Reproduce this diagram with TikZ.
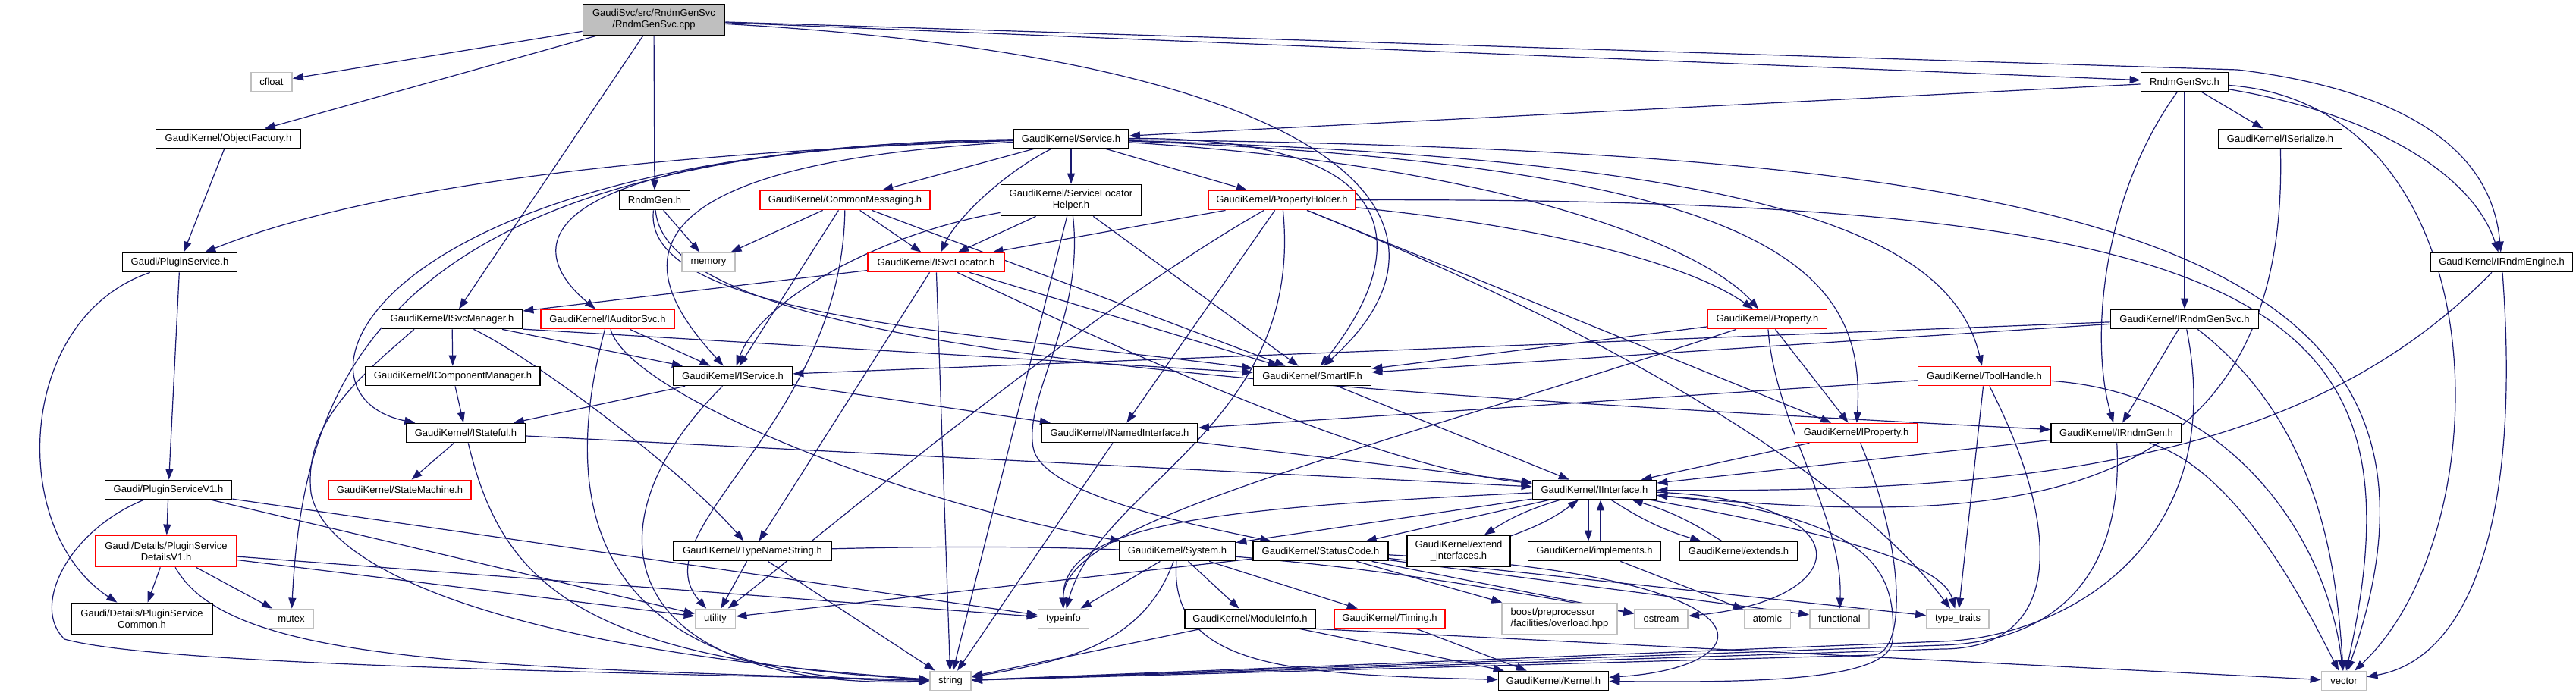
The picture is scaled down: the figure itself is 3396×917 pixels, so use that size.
\documentclass[tikz,border=0pt]{standalone}
\usepackage{fontspec}
\setmainfont{Liberation Sans}
\usepackage{tikz}
\usetikzlibrary{arrows.meta,backgrounds}

\definecolor{edgeblue}{HTML}{191970}
\definecolor{filegrey}{HTML}{BFBFBF}

\begin{document}
\begin{tikzpicture}[x=0.5pt, y=-0.5pt]

  \tikzset{
    header/.style={draw=black, line width=0.9pt, fill=white, inner sep=0pt,
      minimum height=12.5pt, align=center, font=\fontsize{6.5}{7.5}\selectfont},
    header-red/.style={header, draw=red},
    header-sys/.style={header, draw=filegrey},
    header-root/.style={header, fill=filegrey},
    two-line/.style={minimum height=20.5pt},
    box-width/.style={minimum width=#1*0.5pt},
    include-edge/.style={draw=edgeblue, line width=0.6pt, -{Triangle[length=7pt,width=5pt]}}
  }

  \useasboundingbox (0,0) rectangle (3396,917);

  % Place the source file.
  \node [header-root, two-line, box-width=187] (rndmgensvc-cpp) at (862,26) {GaudiSvc/src/RndmGenSvc\\/RndmGenSvc.cpp};

  % Place the headers, one rank after the other.
  \node [header-sys, box-width=54] (cfloat) at (358,108) {cfloat};
  \node [header, box-width=115] (rndmgensvc-h) at (2880,108) {RndmGenSvc.h};

  \node [header, box-width=191] (object-factory) at (301,183) {GaudiKernel/ObjectFactory.h};
  \node [header, box-width=152] (service) at (1412,183) {GaudiKernel/Service.h};
  \node [header, box-width=163] (iserialize) at (3006,183) {GaudiKernel/ISerialize.h};

  \node [header, box-width=93] (rndmgen) at (863,264) {RndmGen.h};
  \node [header-red, box-width=224] (common-messaging) at (1114,264) {GaudiKernel/CommonMessaging.h};
  \node [header, two-line, box-width=185] (locator-helper) at (1412,264) {GaudiKernel/ServiceLocator\\Helper.h};
  \node [header-red, box-width=194] (property-holder) at (1690,264) {GaudiKernel/PropertyHolder.h};

  \node [header, box-width=151] (plugin-service) at (237,346) {Gaudi/PluginService.h};
  \node [header-sys, box-width=70] (memory) at (934,346) {memory};
  \node [header-red, box-width=180] (isvclocator) at (1234,346) {GaudiKernel/ISvcLocator.h};
  \node [header, box-width=187] (irndmengine) at (3298,346) {GaudiKernel/IRndmEngine.h};

  \node [header, box-width=185] (isvcmanager) at (596,421) {GaudiKernel/ISvcManager.h};
  \node [header-red, box-width=176] (iauditorsvc) at (801,421) {GaudiKernel/IAuditorSvc.h};
  \node [header-red, box-width=157] (property) at (2330,421) {GaudiKernel/Property.h};
  \node [header, box-width=195] (irndmgensvc) at (2880,421) {GaudiKernel/IRndmGenSvc.h};

  \node [header, box-width=230] (icomponent-manager) at (597,496) {GaudiKernel/IComponentManager.h};
  \node [header, box-width=157] (iservice) at (966,496) {GaudiKernel/IService.h};
  \node [header, box-width=155] (smartif) at (1730,496) {GaudiKernel/SmartIF.h};
  \node [header-red, box-width=175] (toolhandle) at (2616,496) {GaudiKernel/ToolHandle.h};

  \node [header, box-width=157] (istateful) at (614,571) {GaudiKernel/IStateful.h};
  \node [header, box-width=206] (inamed-interface) at (1476,571) {GaudiKernel/INamedInterface.h};
  \node [header-red, box-width=161] (iproperty) at (2447,571) {GaudiKernel/IProperty.h};
  \node [header, box-width=172] (irndmgen) at (2790,571) {GaudiKernel/IRndmGen.h};

  \node [header, box-width=167] (plugin-service-v1) at (222,646) {Gaudi/PluginServiceV1.h};
  \node [header-red, box-width=188] (state-machine) at (527,646) {GaudiKernel/StateMachine.h};
  \node [header, box-width=163] (iinterface) at (2102,646) {GaudiKernel/IInterface.h};

  \node [header-red, two-line, box-width=186] (details-v1) at (219,727) {Gaudi/Details/PluginService\\DetailsV1.h};
  \node [header, box-width=208] (type-name-string) at (992,727) {GaudiKernel/TypeNameString.h};
  \node [header, box-width=153] (system) at (1552,727) {GaudiKernel/System.h};
  \node [header, box-width=178] (status-code) at (1741,727) {GaudiKernel/StatusCode.h};
  \node [header, two-line, box-width=136] (extend-interfaces) at (1923,727) {GaudiKernel/extend\\\_interfaces.h};
  \node [header, box-width=175] (implements) at (2102,727) {GaudiKernel/implements.h};
  \node [header, box-width=155] (extends) at (2292,727) {GaudiKernel/extends.h};

  \node [header, two-line, box-width=186] (details-common) at (187,816) {Gaudi/Details/PluginService\\Common.h};
  \node [header-sys, box-width=59] (mutex) at (384,816) {mutex};
  \node [header-sys, box-width=53] (utility) at (943,816) {utility};
  \node [header-sys, box-width=67] (typeinfo) at (1402,816) {typeinfo};
  \node [header, box-width=172] (module-info) at (1648,816) {GaudiKernel/ModuleInfo.h};
  \node [header-red, box-width=146] (timing) at (1832,816) {GaudiKernel/Timing.h};
  \node [header-sys, two-line, box-width=152, align=left] (boost-overload) at (2056,816) {boost/preprocessor\\/facilities/overload.hpp};
  \node [header-sys, box-width=70] (ostream) at (2190,816) {ostream};
  \node [header-sys, box-width=61] (atomic) at (2330,816) {atomic};
  \node [header-sys, box-width=78] (functional) at (2425,816) {functional};
  \node [header-sys, box-width=82] (type-traits) at (2581,816) {type\_traits};

  \node [header-sys, box-width=54] (string) at (1253,898) {string};
  \node [header, box-width=145] (kernel) at (2048,898) {GaudiKernel/Kernel.h};
  \node [header-sys, box-width=59] (vector) at (3090,898) {vector};

  % Bend points of the longer connectors.
  \coordinate (engine-bend) at (2950,92);
  \coordinate (v1-string-turn) at (85,843);
  \coordinate (manager-string-turn) at (410,650);
  \coordinate (helper-status-turn) at (1362,590);
  \coordinate (kernel-loop) at (2495,845);
  \coordinate (string-feed-a) at (2560,846);
  \coordinate (string-feed-b) at (2560,851);
  \coordinate (string-feed-c) at (2560,856);
  \coordinate (string-feed-d) at (2470,864);

  \begin{pgfonlayer}{background}

  % Includes of the source file.
  \draw [include-edge] (rndmgensvc-cpp) -- (cfloat);
  \draw [include-edge] (rndmgensvc-cpp) -- (object-factory);
  \draw [include-edge] (rndmgensvc-cpp) -- (rndmgen);
  \draw [include-edge] (rndmgensvc-cpp) -- (isvcmanager);
  \draw [include-edge] (rndmgensvc-cpp) .. controls (1800,80) and (1950,300) .. (smartif);
  \draw [include-edge] (rndmgensvc-cpp) -- (rndmgensvc-h);
  \draw [include-edge] (rndmgensvc-cpp) -- (engine-bend) to[out=-7,in=95] (irndmengine);

  % The plugin service.
  \draw [include-edge] (object-factory) -- (plugin-service);
  \draw [include-edge] (plugin-service) -- (plugin-service-v1);
  \draw [include-edge] (plugin-service) .. controls (20,420) and (10,700) .. (details-common);
  \draw [include-edge] (plugin-service-v1) -- (details-v1);
  \draw [include-edge] (plugin-service-v1) .. controls (90,700) and (40,800) .. (v1-string-turn) .. controls (200,875) and (700,885) .. (string);
  \draw [include-edge] (plugin-service-v1) -- (utility);
  \draw [include-edge] (plugin-service-v1) -- (typeinfo);
  \draw [include-edge] (details-v1) -- (details-common);
  \draw [include-edge] (details-v1) -- (mutex);
  \draw [include-edge] (details-v1) .. controls (300,870) and (600,880) .. (string);
  \draw [include-edge] (details-v1) -- (utility);
  \draw [include-edge] (details-v1) -- (typeinfo);

  % RndmGenSvc.h
  \draw [include-edge] (rndmgensvc-h) -- (service);
  \draw [include-edge] (rndmgensvc-h) -- (iserialize);
  \draw [include-edge] (rndmgensvc-h) -- (irndmgensvc);
  \draw [include-edge] (rndmgensvc-h) .. controls (2770,260) and (2755,450) .. (irndmgen);
  \draw [include-edge] (rndmgensvc-h) .. controls (3130,150) and (3260,230) .. (irndmengine);
  \draw [include-edge] (rndmgensvc-h) .. controls (3300,140) and (3300,700) .. (vector);

  % Service.h
  \draw [include-edge] (service) .. controls (900,200) and (500,240) .. (plugin-service);
  \draw [include-edge] (service) .. controls (480,195) and (360,520) .. (istateful);
  \draw [include-edge] (service) .. controls (500,195) and (400,500) .. (mutex);
  \draw [include-edge] (service) .. controls (700,200) and (680,320) .. (iauditorsvc);
  \draw [include-edge] (service) .. controls (760,220) and (860,380) .. (iservice);
  \draw [include-edge] (service) -- (common-messaging);
  \draw [include-edge] (service) .. controls (1320,230) and (1260,290) .. (isvclocator);
  \draw [include-edge] (service) -- (locator-helper);
  \draw [include-edge] (service) -- (property-holder);
  \draw [include-edge] (service) .. controls (1900,180) and (1840,360) .. (smartif);
  \draw [include-edge] (service) .. controls (2000,220) and (2250,330) .. (property);
  \draw [include-edge] (service) .. controls (2350,220) and (2460,360) .. (iproperty);
  \draw [include-edge] (service) .. controls (2300,210) and (2570,300) .. (toolhandle);
  \draw [include-edge] (service) .. controls (2700,200) and (3300,300) .. (vector);

  % CommonMessaging.h
  \draw [include-edge] (common-messaging) -- (memory);
  \draw [include-edge] (common-messaging) -- (isvclocator);
  \draw [include-edge] (common-messaging) -- (iservice);
  \draw [include-edge] (common-messaging) -- (smartif);
  \draw [include-edge] (common-messaging) .. controls (1110,560) and (840,700) .. (utility);

  % ServiceLocatorHelper.h
  \draw [include-edge] (locator-helper) -- (isvclocator);
  \draw [include-edge] (locator-helper) .. controls (1150,310) and (1000,400) .. (iservice);
  \draw [include-edge] (locator-helper) -- (smartif);
  \draw [include-edge] (locator-helper) -- (string);
  \draw [include-edge] (locator-helper) .. controls (1430,420) and (1350,520) .. (helper-status-turn) .. controls (1372,650) and (1560,690) .. (status-code);

  % PropertyHolder.h
  \draw [include-edge] (property-holder) -- (isvclocator);
  \draw [include-edge] (property-holder) -- (iproperty);
  \draw [include-edge] (property-holder) .. controls (2050,300) and (2230,350) .. (property);
  \draw [include-edge] (property-holder) -- (inamed-interface);
  \draw [include-edge] (property-holder) .. controls (1450,400) and (1150,650) .. (utility);
  \draw [include-edge] (property-holder) .. controls (1720,560) and (1450,640) .. (typeinfo);
  \draw [include-edge] (property-holder) .. controls (2150,450) and (2450,640) .. (type-traits);
  \draw [include-edge] (property-holder) .. controls (3000,260) and (3200,400) .. (vector);

  % ISvcLocator.h
  \draw [include-edge] (isvclocator) -- (isvcmanager);
  \draw [include-edge] (isvclocator) -- (type-name-string);
  \draw [include-edge] (isvclocator) -- (string);
  \draw [include-edge] (isvclocator) -- (smartif);
  \draw [include-edge] (isvclocator) .. controls (1600,520) and (1850,620) .. (iinterface);

  % RndmGen.h
  \draw [include-edge] (rndmgen) -- (memory);
  \draw [include-edge] (rndmgen) .. controls (845,420) and (1300,440) .. (smartif);
  \draw [include-edge] (rndmgen) .. controls (880,460) and (1600,510) .. (irndmgen);

  % The random engine, serialisation and generator service interfaces.
  \draw [include-edge] (irndmengine) .. controls (3050,600) and (2700,650) .. (iinterface);
  \draw [include-edge] (irndmengine) .. controls (3325,700) and (3250,870) .. (vector);
  \draw [include-edge] (iserialize) .. controls (3020,700) and (2600,690) .. (iinterface);
  \draw [include-edge] (irndmgensvc) -- (irndmgen);
  \draw [include-edge] (irndmgensvc) -- (iservice);
  \draw [include-edge] (irndmgensvc) -- (smartif);
  \draw [include-edge] (irndmgensvc) .. controls (3060,560) and (3080,750) .. (vector);
  \draw [include-edge] (irndmgensvc) .. controls (2940,720) and (2720,841) .. (string-feed-a) -- (string);

  % ISvcManager.h and IAuditorSvc.h
  \draw [include-edge] (isvcmanager) -- (icomponent-manager);
  \draw [include-edge] (isvcmanager) -- (iservice);
  \draw [include-edge] (isvcmanager) .. controls (700,470) and (900,620) .. (type-name-string);
  \draw [include-edge] (isvcmanager.-165) .. controls (470,500) and (400,560) .. (manager-string-turn) .. controls (430,760) and (700,860) .. (string);
  \draw [include-edge] (isvcmanager.-8) -- (smartif);
  \draw [include-edge] (iauditorsvc) -- (iservice);
  \draw [include-edge] (iauditorsvc) .. controls (740,650) and (760,900) .. (string);
  \draw [include-edge] (iauditorsvc) .. controls (830,520) and (1180,660) .. (system);

  % Interfaces below the services.
  \draw [include-edge] (icomponent-manager) -- (istateful);
  \draw [include-edge] (iservice) -- (inamed-interface);
  \draw [include-edge] (iservice) -- (istateful);
  \draw [include-edge] (iservice) .. controls (760,700) and (820,910) .. (string);
  \draw [include-edge] (istateful) -- (state-machine);
  \draw [include-edge] (istateful) -- (iinterface);
  \draw [include-edge] (istateful) .. controls (660,760) and (750,870) .. (string);
  \draw [include-edge] (inamed-interface) -- (iinterface);
  \draw [include-edge] (inamed-interface) -- (string);
  \draw [include-edge] (smartif) -- (iinterface);

  % ToolHandle.h
  \draw [include-edge] (toolhandle) -- (inamed-interface);
  \draw [include-edge] (toolhandle) -- (type-traits);
  \draw [include-edge] (toolhandle) .. controls (2950,520) and (3070,720) .. (vector);
  \draw [include-edge] (toolhandle) .. controls (2720,700) and (2720,856) .. (string-feed-c) -- (string);

  % Property.h and IProperty.h
  \draw [include-edge] (property) -- (iproperty);
  \draw [include-edge] (property) -- (smartif);
  \draw [include-edge] (property) .. controls (1750,610) and (1400,690) .. (typeinfo);
  \draw [include-edge] (property) .. controls (2340,560) and (2430,680) .. (functional);
  \draw [include-edge] (iproperty) -- (iinterface);
  \draw [include-edge] (iproperty) .. controls (2510,720) and (2515,860) .. (string-feed-d) -- (string);

  % IRndmGen.h
  \draw [include-edge] (irndmgen) -- (iinterface);
  \draw [include-edge] (irndmgen) .. controls (2800,760) and (2710,846) .. (string-feed-b) -- (string);
  \draw [include-edge] (irndmgen) .. controls (2950,620) and (3040,800) .. (vector);

  % IInterface.h and the helpers that include it back.
  \draw [include-edge] (iinterface) -- (status-code);
  \draw [include-edge] (iinterface) to[bend right=8] (extend-interfaces);
  \draw [include-edge] (extend-interfaces) to[bend right=8] (iinterface);
  \draw [include-edge] ([xshift=-4pt]iinterface.south) -- ([xshift=-4pt]implements.north);
  \draw [include-edge] ([xshift=4pt]implements.north) -- ([xshift=4pt]iinterface.south);
  \draw [include-edge] (iinterface) to[bend right=8] (extends);
  \draw [include-edge] (extends) to[bend right=8] (iinterface);
  \draw [include-edge] (iinterface) .. controls (1600,670) and (1400,690) .. (typeinfo);
  \draw [include-edge] (iinterface) -- (system);
  \draw [include-edge] (iinterface) .. controls (2480,680) and (2500,760) .. (kernel-loop) .. controls (2490,900) and (2300,900) .. (kernel);
  \draw [include-edge] (iinterface) .. controls (2460,660) and (2450,790) .. (ostream);
  \draw [include-edge] (iinterface) .. controls (2400,700) and (2560,740) .. (type-traits);
  \draw [include-edge] (implements) -- (atomic);

  % System.h and StatusCode.h
  \draw [include-edge] (system) -- (typeinfo);
  \draw [include-edge] (system) to[out=-110,in=10] (string);
  \draw [include-edge] (system) -- (module-info);
  \draw [include-edge] (system) -- (timing);
  \draw [include-edge] (system) .. controls (1540,880) and (1700,890) .. (kernel);
  \draw [include-edge] (status-code) -- (utility);
  \draw [include-edge] (status-code) -- (boost-overload);
  \draw [include-edge] (status-code) -- (ostream);
  \draw [include-edge] (status-code) -- (functional);
  \draw [include-edge] (status-code) -- (type-traits);
  \draw [include-edge] (status-code) .. controls (2360,760) and (2330,880) .. (kernel);

  % The bottom rank.
  \draw [include-edge] (module-info) -- (string);
  \draw [include-edge] (module-info) -- (kernel);
  \draw [include-edge] (module-info.south east) -- (vector);
  \draw [include-edge] (timing) -- (kernel);
  \draw [include-edge] (type-name-string) -- (utility);
  \draw [include-edge] (type-name-string) -- (string);
  \draw [include-edge] (type-name-string) to[bend left=6] (ostream);

  \end{pgfonlayer}

\end{tikzpicture}
\end{document}
